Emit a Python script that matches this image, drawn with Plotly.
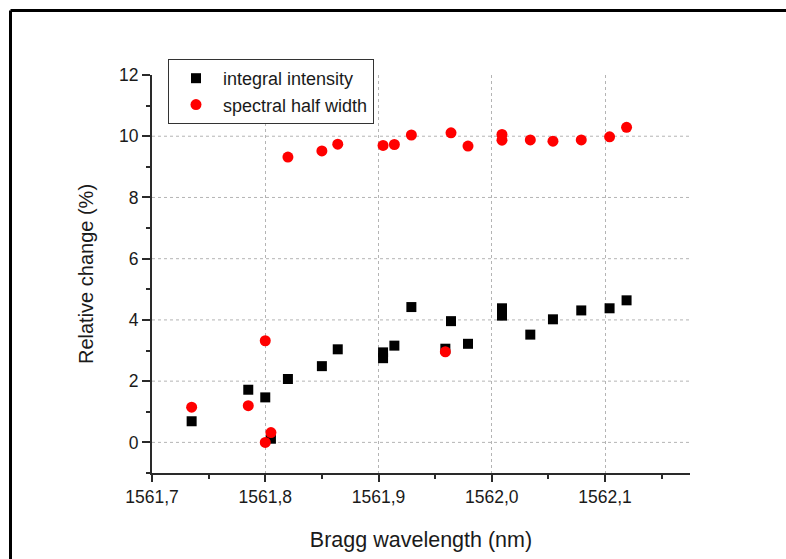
import plotly.graph_objects as go

# Data
x_intensity = [1561.735, 1561.785, 1561.800, 1561.805, 1561.820, 1561.850, 1561.864,
               1561.904, 1561.904, 1561.914, 1561.929, 1561.959, 1561.964, 1561.979,
               1562.009, 1562.009, 1562.034, 1562.054, 1562.079, 1562.104, 1562.119]
y_intensity = [0.69, 1.72, 1.47, 0.12, 2.07, 2.49, 3.04,
               2.94, 2.75, 3.16, 4.42, 3.06, 3.96, 3.22,
               4.38, 4.14, 3.52, 4.02, 4.31, 4.38, 4.64]

x_halfwidth = [1561.735, 1561.785, 1561.800, 1561.800, 1561.805, 1561.820, 1561.850,
               1561.864, 1561.904, 1561.914, 1561.929, 1561.959, 1561.964, 1561.979,
               1562.009, 1562.009, 1562.034, 1562.054, 1562.079, 1562.104, 1562.119]
y_halfwidth = [1.15, 1.20, 3.32, 0.00, 0.32, 9.32, 9.52,
               9.74, 9.70, 9.73, 10.04, 2.96, 10.11, 9.68,
               10.06, 9.87, 9.88, 9.84, 9.88, 9.98, 10.29]

series_names = ["integral intensity", "spectral half width"]
y_tick_vals = [0, 2, 4, 6, 8, 10, 12]
y_grid_vals = [0, 2, 4, 6, 8, 10]

FONT = "Liberation Sans, Arial, sans-serif"
AXIS_COLOR = "#2a2a2a"
GRID_COLOR = "#b4b4b4"

fig = go.Figure()
fig.add_trace(go.Scatter(
    x=x_intensity, y=y_intensity, mode="markers", name=series_names[0],
    marker=dict(symbol="square", size=10, color="black", line=dict(width=0)),
))
fig.add_trace(go.Scatter(
    x=x_halfwidth, y=y_halfwidth, mode="markers", name=series_names[1],
    marker=dict(symbol="circle", size=11, color="#ff0000", line=dict(width=0)),
))

shapes = []
for g in y_grid_vals:
    shapes.append(dict(type="line", xref="paper", x0=0, x1=1, yref="y", y0=g, y1=g,
                       line=dict(color=GRID_COLOR, width=1, dash="3px,3px"), layer="below"))
# outer frame: only its top and left edges fall inside the picture
fx0 = (10.5 - 152) / 538
fy1 = (473 - 10.5) / 398
shapes.append(dict(type="line", xref="paper", yref="paper", x0=fx0, x1=1.3, y0=fy1, y1=fy1,
                   line=dict(color="black", width=3)))
shapes.append(dict(type="line", xref="paper", yref="paper", x0=fx0, x1=fx0, y0=-0.4, y1=fy1,
                   line=dict(color="black", width=3)))

fig.update_layout(
    width=786, height=559,
    margin=dict(l=152, r=96, t=75, b=86),
    paper_bgcolor="white", plot_bgcolor="white",
    separators=",.",
    font=dict(family=FONT, size=17, color="#1a1a1a"),
    showlegend=True,
    legend=dict(x=(168 - 152) / 538, y=(473 - 59) / 398, xanchor="left", yanchor="top",
                bgcolor="white", bordercolor="#333333", borderwidth=1,
                font=dict(family=FONT, size=18, color="#1a1a1a"),
                itemwidth=44, tracegroupgap=0),
    shapes=shapes,
    xaxis=dict(
        range=[1561.7, 1562.175], tick0=1561.7, dtick=0.1, tickformat=".1f",
        showline=True, linecolor=AXIS_COLOR, linewidth=2, mirror=False,
        ticks="outside", ticklen=7, tickwidth=2, tickcolor=AXIS_COLOR,
        minor=dict(dtick=0.05, tick0=1561.7, ticks="outside", ticklen=4,
                   tickwidth=2, tickcolor=AXIS_COLOR, showgrid=False),
        showgrid=True, gridcolor=GRID_COLOR, gridwidth=1, griddash="3px,3px",
        zeroline=False,
        tickfont=dict(size=17.5),
        title=dict(text="Bragg wavelength (nm)", font=dict(size=21.5), standoff=26),
    ),
    yaxis=dict(
        range=[-1, 12], tickmode="array", tickvals=y_tick_vals,
        showline=True, linecolor=AXIS_COLOR, linewidth=2, mirror=False,
        ticks="outside", ticklen=8, tickwidth=2, tickcolor=AXIS_COLOR,
        minor=dict(dtick=1, tick0=0, ticks="outside", ticklen=4,
                   tickwidth=2, tickcolor=AXIS_COLOR, showgrid=False),
        showgrid=False, zeroline=False,
        tickfont=dict(size=17.5),
        title=dict(text="Relative change (%)", font=dict(size=20), standoff=20),
    ),
)

fig.write_html("out.html")
